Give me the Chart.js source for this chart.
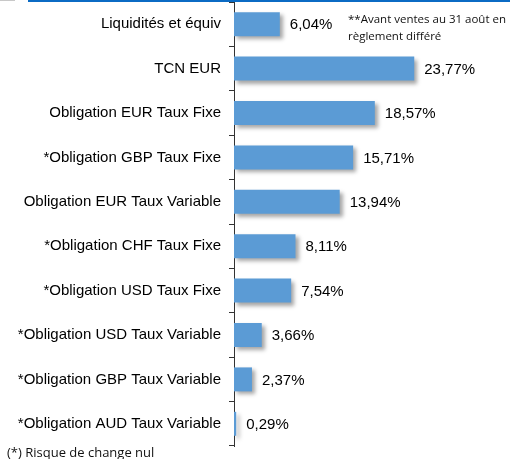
<!DOCTYPE html>
<html>
<head>
<meta charset="utf-8">
<script src="https://cdn.jsdelivr.net/npm/chart.js@4.4.1/dist/chart.umd.min.js"></script>
<style>
  html, body { margin: 0; padding: 0; background: #fff; }
  #wrap { width: 510px; height: 459px; position: relative; }
</style>
</head>
<body>
<div id="wrap"><canvas id="chart"></canvas></div>
<script>
  // Répartition du portefeuille (en %)
  const repartition = [
    { label: 'Liquidités et équiv', value: 6.04 },
    { label: 'TCN EUR', value: 23.77 },
    { label: 'Obligation EUR Taux Fixe', value: 18.57 },
    { label: '*Obligation GBP Taux Fixe', value: 15.71 },
    { label: 'Obligation EUR Taux Variable', value: 13.94 },
    { label: '*Obligation CHF Taux Fixe', value: 8.11 },
    { label: '*Obligation USD Taux Fixe', value: 7.54 },
    { label: '*Obligation USD Taux Variable', value: 3.66 },
    { label: '*Obligation GBP Taux Variable', value: 2.37 },
    { label: '*Obligation AUD Taux Variable', value: 0.29 }
  ];

  const fmt = v => v.toFixed(2).replace('.', ',') + '%';

  // ombre portée sous les barres
  const barShadow = {
    id: 'barShadow',
    beforeDatasetsDraw(chart) {
      const ctx = chart.ctx;
      ctx.save();
      ctx.shadowColor = 'rgba(0,0,0,0.35)';
      ctx.shadowOffsetX = 3;
      ctx.shadowOffsetY = 3;
      ctx.shadowBlur = 4;
    },
    afterDatasetsDraw(chart) {
      chart.ctx.restore();
    }
  };

  // valeurs, notes et filets
  const extras = {
    id: 'extras',
    afterDraw(chart) {
      const { ctx } = chart;
      const meta = chart.getDatasetMeta(0);
      ctx.save();
      ctx.fillStyle = '#000';
      ctx.font = '15px "Liberation Sans", Arial, sans-serif';
      ctx.textAlign = 'left';
      ctx.textBaseline = 'middle';
      meta.data.forEach((bar, i) => {
        ctx.fillText(fmt(repartition[i].value), bar.x + 10, bar.y + 1);
      });

      ctx.fillStyle = '#111';
      ctx.textBaseline = 'alphabetic';
      ctx.font = '11.5px "Open Sans", sans-serif';
      ctx.fillText('**Avant ventes au 31 août en', 348, 23);
      ctx.fillText('règlement différé', 348, 40);
      ctx.font = '13px "Open Sans", sans-serif';
      ctx.fillText('(*) Risque de change nul', 7, 457);

      // filets du haut
      ctx.fillStyle = '#c8c8c8';
      ctx.fillRect(0, 0, 15, 1);
      ctx.fillStyle = '#0b6bc4';
      ctx.fillRect(28, 0, 482, 2);
      ctx.restore();
    }
  };

  new Chart(document.getElementById('chart'), {
    type: 'bar',
    data: {
      labels: repartition.map(d => d.label),
      datasets: [{
        data: repartition.map(d => d.value),
        backgroundColor: '#5b9bd5',
        borderWidth: 0,
        barPercentage: 0.54,
        categoryPercentage: 1
      }]
    },
    options: {
      indexAxis: 'y',
      responsive: true,
      maintainAspectRatio: false,
      animation: false,
      layout: { padding: { top: 2, bottom: 13, left: 0, right: 3 } },
      scales: {
        x: {
          display: false,
          min: 0,
          max: 36
        },
        y: {
          afterFit(scale) {
            scale.width = 234;
            scale.paddingTop = 0;
            scale.paddingBottom = 0;
          },
          grid: {
            drawOnChartArea: false,
            offset: true,
            tickLength: 5,
            color: '#333'
          },
          border: { color: '#333', width: 1 },
          ticks: {
            color: '#000',
            padding: 8,
            font: { family: '"Liberation Sans", Arial, sans-serif', size: 15 }
          }
        }
      },
      plugins: {
        legend: { display: false },
        tooltip: { enabled: false }
      }
    },
    plugins: [barShadow, extras]
  });
</script>
</body>
</html>
